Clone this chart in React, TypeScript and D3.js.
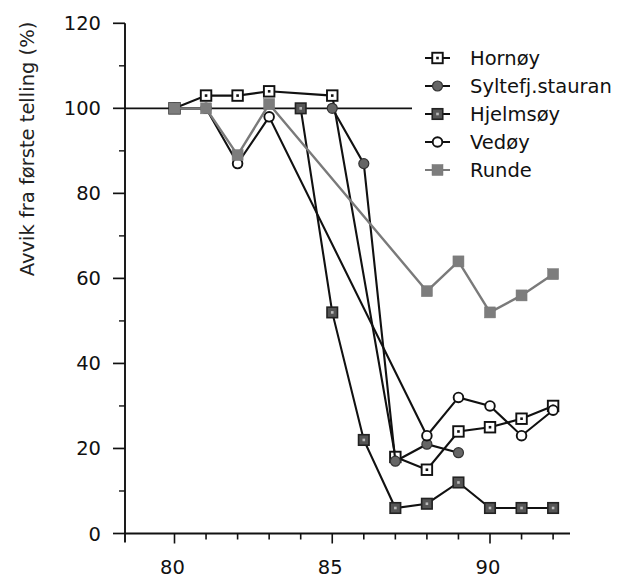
import React from "react";
import * as d3 from "d3";

const years = [80, 81, 82, 83, 84, 85, 86, 87, 88, 89, 90, 91, 92];
const hornoy: [number, number][] = [[80, 100], [81, 103], [82, 103], [83, 104], [85, 103], [87, 18], [88, 15], [89, 24], [90, 25], [91, 27], [92, 30]];
const syltefj: [number, number][] = [[85, 100], [86, 87], [87, 17], [88, 21], [89, 19]];
const hjelmsoy: [number, number][] = [[84, 100], [85, 52], [86, 22], [87, 6], [88, 7], [89, 12], [90, 6], [91, 6], [92, 6]];
const vedoy: [number, number][] = [[80, 100], [81, 100], [82, 87], [83, 98], [88, 23], [89, 32], [90, 30], [91, 23], [92, 29]];
const runde: [number, number][] = [[80, 100], [81, 100], [82, 89], [83, 101], [88, 57], [89, 64], [90, 52], [91, 56], [92, 61]];
const seriesNames = ["Hornøy", "Syltefj.stauran", "Hjelmsøy", "Vedøy", "Runde"];
const yTicks = [0, 20, 40, 60, 80, 100, 120];
const yMinor = [10, 30, 50, 70, 90, 110];
const xLabels = [80, 85, 90];
const yTitle = "Avvik fra første telling (%)";

type Kind = "hornoy" | "syltefj" | "hjelmsoy" | "vedoy" | "runde";
const kinds: Kind[] = ["hornoy", "syltefj", "hjelmsoy", "vedoy", "runde"];
const dataByKind: Record<Kind, [number, number][]> = { hornoy, syltefj, hjelmsoy, vedoy, runde };

function Marker({ kind, x, y }: { kind: Kind; x: number; y: number }) {
  const s = 10.5;
  if (kind === "hornoy")
    return (
      <g>
        <rect x={x - s / 2} y={y - s / 2} width={s} height={s} fill="#fff" stroke="#111" strokeWidth={1.9} />
        <rect x={x - 1.3} y={y - 1.3} width={2.6} height={2.6} fill="#111" />
      </g>
    );
  if (kind === "hjelmsoy")
    return (
      <g>
        <rect x={x - s / 2} y={y - s / 2} width={s} height={s} fill="#555" stroke="#222" strokeWidth={1.6} />
        <rect x={x - 1.3} y={y - 1.3} width={2.6} height={2.6} fill="#bbb" />
      </g>
    );
  if (kind === "syltefj") return <circle cx={x} cy={y} r={5} fill="#666" stroke="#333" strokeWidth={1.2} />;
  if (kind === "vedoy") return <circle cx={x} cy={y} r={4.8} fill="#fff" stroke="#111" strokeWidth={1.9} />;
  return <rect x={x - 5.5} y={y - 5.5} width={11} height={11} fill="#7d7d7d" stroke="#777" strokeWidth={0.5} />;
}

export default function App() {
  const W = 624, H = 579;
  const x = d3.scaleLinear().domain([80, 90]).range([174.5, 490]);
  const y = d3.scaleLinear().domain([0, 120]).range([533.5, 23.3]);
  const axisX = 125;
  const line = d3.line<[number, number]>().x((d) => x(d[0])).y((d) => y(d[1]));
  const font = "'DejaVu Sans', Verdana, sans-serif";
  const fs = 19.5;

  return (
    <svg width={W} height={H} style={{ position: "absolute", left: 0, top: 0, background: "#fff" }}>
      <rect x={0} y={0} width={W} height={H} fill="#fff" />
      {/* y axis */}
      <line x1={axisX} x2={axisX} y1={y(120)} y2={y(0) + 9} stroke="#111" strokeWidth={1.9} />
      {yTicks.map((t) => (
        <g key={t}>
          <line x1={axisX - 12} x2={axisX} y1={y(t)} y2={y(t)} stroke="#111" strokeWidth={1.7} />
          <text x={101} y={y(t)} dy="0.36em" textAnchor="end" fontFamily={font} fontSize={fs} fill="#111">{t}</text>
        </g>
      ))}
      {yMinor.map((t) => (
        <line key={t} x1={axisX - 6} x2={axisX} y1={y(t)} y2={y(t)} stroke="#111" strokeWidth={1.4} />
      ))}
      {/* x axis */}
      <line x1={axisX} x2={570} y1={y(0)} y2={y(0)} stroke="#111" strokeWidth={1.9} />
      {years.map((t) => (
        <line key={t} x1={x(t)} x2={x(t)} y1={y(0)} y2={y(0) + (t % 5 === 0 ? 10 : 6)} stroke="#111" strokeWidth={1.6} />
      ))}
      {xLabels.map((t) => (
        <text key={t} x={x(t) - 2} y={574} textAnchor="middle" fontFamily={font} fontSize={fs} fill="#111">{t}</text>
      ))}
      <text transform={`translate(34,${149}) rotate(-90)`} textAnchor="middle" fontFamily={font} fontSize={fs} fill="#222">{yTitle}</text>
      {/* reference line at 100 */}
      <line x1={axisX} x2={412} y1={y(100)} y2={y(100)} stroke="#111" strokeWidth={1.6} />
      {/* series */}
      {kinds.map((k) => (
        <g key={k}>
          <path d={line(dataByKind[k]) || ""} fill="none" stroke={k === "runde" ? "#7a7a7a" : "#111"} strokeWidth={k === "runde" ? 2.4 : 2.1} />
          {dataByKind[k].map((d, i) => (
            <Marker key={i} kind={k} x={x(d[0])} y={y(d[1])} />
          ))}
        </g>
      ))}
      {/* legend */}
      {kinds.map((k, i) => {
        const ly = 58 + i * 28;
        return (
          <g key={k}>
            <line x1={425} x2={450} y1={ly} y2={ly} stroke={k === "runde" ? "#7a7a7a" : "#111"} strokeWidth={2} />
            <Marker kind={k} x={437.5} y={ly} />
            <text x={470} y={ly} dy="0.36em" fontFamily={font} fontSize={fs} fill="#111">{seriesNames[i]}</text>
          </g>
        );
      })}
    </svg>
  );
}
